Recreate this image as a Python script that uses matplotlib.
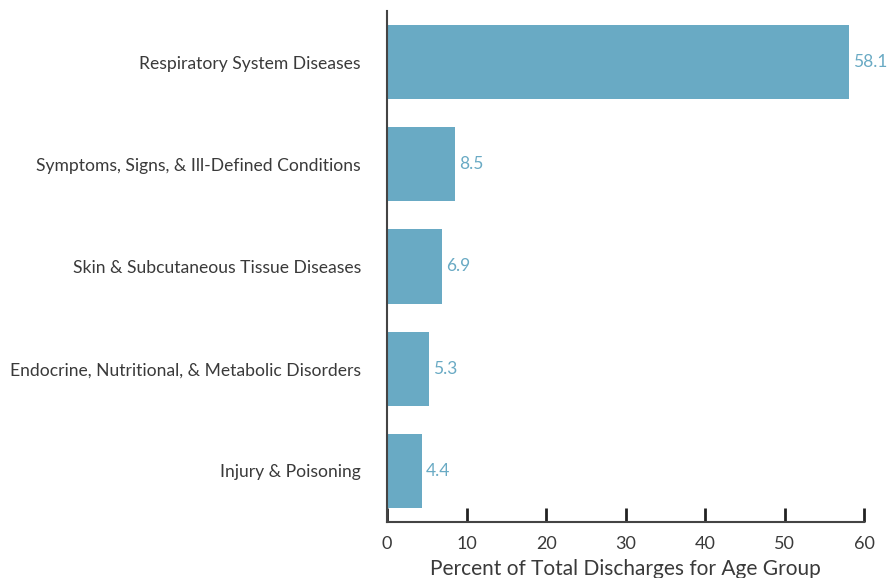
import matplotlib
matplotlib.use('Agg')
import matplotlib.pyplot as plt

categories = [
    'Respiratory System Diseases',
    'Symptoms, Signs, & Ill-Defined Conditions',
    'Skin & Subcutaneous Tissue Diseases',
    'Endocrine, Nutritional, & Metabolic Disorders',
    'Injury & Poisoning',
]
percents = [58.1, 8.5, 6.9, 5.3, 4.4]
xticks = [0, 10, 20, 30, 40, 50, 60]

bar_color = '#69aac4'
text_color = '#3a3a3a'

plt.rcParams['font.family'] = ['Lato', 'DejaVu Sans']

fig = plt.figure(figsize=(8.88, 5.78), dpi=100)
ax = fig.add_axes([0.436, 0.097, 0.537, 0.884])

pos = list(range(len(categories)))
ax.barh(pos, percents, height=0.725, color=bar_color)

for y, v in zip(pos, percents):
    ax.text(v + 0.5, y, f'{v:.1f}', va='center', ha='left',
            fontsize=12.5, color=bar_color, clip_on=False)

ax.set_ylim(4.5, -0.5)
ax.set_xlim(0, 60)
ax.set_yticks(pos)
ax.set_yticklabels(categories, fontsize=12.6, color=text_color)
ax.set_xticks(xticks)
ax.set_xticklabels([str(t) for t in xticks], fontsize=13, color=text_color)
ax.tick_params(axis='y', length=0, pad=19)
ax.tick_params(axis='x', direction='in', length=10, width=2, color='#222222', pad=10)
ax.set_xlabel('Percent of Total Discharges for Age Group', fontsize=15,
              color=text_color, labelpad=5)

for s in ['top', 'right']:
    ax.spines[s].set_visible(False)
ax.spines['left'].set_color('#444444')
ax.spines['left'].set_linewidth(1.5)
ax.spines['bottom'].set_color('#444444')
ax.spines['bottom'].set_linewidth(1.5)

fig.savefig('out.png', dpi=100)
